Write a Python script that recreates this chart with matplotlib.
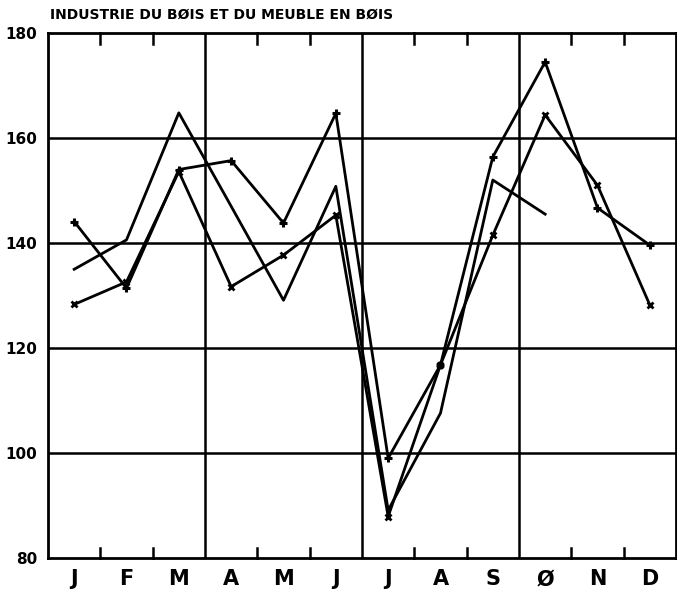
import numpy as np
import matplotlib
matplotlib.use("Agg")
import matplotlib.pyplot as plt

months = ["J", "F", "M", "A", "M", "J", "J", "A", "S", "Ø", "N", "D"]

# three years
plus_vals = [144.1, 131.4, 154.0, 155.7, 143.8, 164.7, 99.0, 116.8, 156.4, 174.5, 146.7, 139.6]
cross_vals = [128.3, 132.6, 153.6, 131.7, 137.7, 145.3, 87.9, 116.8, 141.5, 164.4, 151.0, 128.2]
plain_vals = [135.0, 140.6, 164.8, 147.0, 129.1, 150.8, 89.1, 107.6, 152.0, 145.5, np.nan, np.nan]

yticks = [80, 100, 120, 140, 160, 180]

plt.rcParams['font.family'] = ['DejaVu Sans']

fig = plt.figure(figsize=(6.77, 5.91), dpi=100)
ax = fig.add_axes([0.0709, 0.0558, 0.9276, 0.8883])

x = np.arange(len(months))
ax.plot(x, plain_vals, color="black", lw=2.0)
ax.plot(x, cross_vals, color="black", lw=2.0, marker="x", ms=5, mew=2)
ax.plot(x, plus_vals, color="black", lw=2.0, marker="+", ms=6, mew=2.2)

ax.set_xlim(-0.5, 11.5)
ax.set_ylim(80, 180)

# quarter lines and horizontal grid
for q in [2.5, 5.5, 8.5]:
    ax.axvline(q, color="black", lw=1.8, zorder=0)
for yv in yticks[1:-1]:
    ax.axhline(yv, color="black", lw=1.8, zorder=0)

# short inward ticks at month boundaries, top and bottom
bounds = [0.5, 1.5, 3.5, 4.5, 6.5, 7.5, 9.5, 10.5]
for b in bounds:
    ax.plot([b, b], [80, 82], color="black", lw=1.8, clip_on=False)
    ax.plot([b, b], [178, 180], color="black", lw=1.8, clip_on=False)

for s in ax.spines.values():
    s.set_linewidth(2)

ax.set_xticks(x)
ax.set_xticklabels(months, fontsize=15, fontweight="bold")
ax.set_yticks(yticks)
ax.set_yticklabels([str(v) for v in yticks], fontsize=11, fontweight="bold")
ax.tick_params(axis="x", length=0, pad=8)
ax.tick_params(axis="y", length=0, pad=8)

fig.text(0.074, 0.975, "INDUSTRIE DU BØIS ET DU MEUBLE EN BØIS",
         fontsize=10, fontweight="bold", va="center", ha="left")

fig.savefig("out.png", dpi=100)
